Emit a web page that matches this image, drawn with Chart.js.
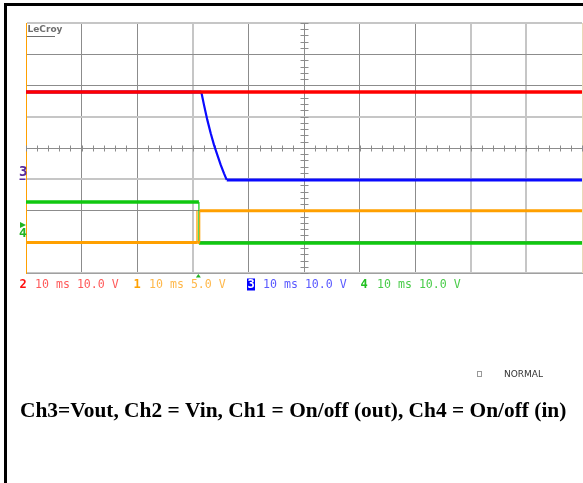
<!DOCTYPE html>
<html>
<head>
<meta charset="utf-8">
<script src="https://cdn.jsdelivr.net/npm/chart.js@4.4.1/dist/chart.umd.min.js"></script>
<style>
  html, body { margin: 0; padding: 0; background: #fff; }
  body { width: 583px; height: 483px; position: relative; overflow: hidden; }
  #frame { position: absolute; left: 4px; top: 3px; width: 600px; height: 500px; border-top: 3px solid #000; border-left: 3px solid #000; }
  #scope { position: absolute; left: 0; top: 0; }
</style>
</head>
<body>
<div id="frame"></div>
<canvas id="scope" width="583" height="483"></canvas>
<script>
// time in ms (10 ms/div, trigger at centre), level in screen divisions from centre
const ch2Time  = [-50, 50];
const ch2Level = [1.79, 1.79];
const ch3Time  = [-50, -18.47, -17.99, -17.39, -16.78, -16.19, -15.59, -14.98, -14.39, -13.9, 50];
const ch3Level = [1.79, 1.79, 1.38, 0.90, 0.47, 0.10, -0.22, -0.54, -0.81, -1.02, -1.02];
const ch4Time  = [-50, -18.9, -18.9, 50];
const ch4Level = [-1.73, -1.73, -3.04, -3.04];
const ch1Time  = [-50, -19.25, -19.25, -19.22, -18.76, -18.76, 50];
const ch1Level = [-3.02, -3.02, -2.01, -3.02, -3.02, -2.01, -2.01];

const chNums     = ['2', '1', '3', '4'];
const chSettings = ['10 ms 10.0 V', '10 ms 5.0 V', '10 ms 10.0 V', '10 ms 10.0 V'];
const captionText = 'Ch3=Vout, Ch2 = Vin, Ch1 = On/off (out), Ch4 = On/off (in)';

const DARK = '#8c8c8c', LIGHT = '#c6c6c6';
const xGridColors = [DARK, DARK, DARK, LIGHT, DARK, DARK, DARK, DARK, LIGHT, LIGHT, '#ead9b8'];
const yGridColors = [LIGHT, DARK, DARK, LIGHT, DARK, LIGHT, DARK, DARK, LIGHT];

const pts = (t, v) => t.map((tt, i) => ({ x: tt, y: v[i] }));

// thin pen on steep edges, like the scope draws them
function segWidth(base) {
  return ctx => {
    const dx = Math.abs(ctx.p1.x - ctx.p0.x), dy = Math.abs(ctx.p1.y - ctx.p0.y);
    if (dy < 1) return base;
    if (dx < 0.5) return 1.2;
    return 2.2;
  };
}

function trace(label, data, color, width, order) {
  return {
    label, data, order,
    borderColor: color, borderWidth: width,
    pointRadius: 0, tension: 0, fill: false,
    segment: { borderWidth: segWidth(width) }
  };
}

const scopeDecor = {
  id: 'scopeDecor',
  beforeDatasetsDraw(chart) {
    const { ctx, scales: { x, y } } = chart;
    const cx = Math.round(x.getPixelForValue(0)) + 0.5;
    const cy = Math.round(y.getPixelForValue(0)) + 0.5;
    ctx.save();
    ctx.strokeStyle = DARK;
    ctx.lineWidth = 1;
    ctx.beginPath();
    for (let v = -50; v <= 50.001; v += 2) {
      const px = Math.round(x.getPixelForValue(v)) + 0.5;
      ctx.moveTo(px, cy - 3); ctx.lineTo(px, cy + 3);
    }
    for (let v = -4; v <= 4.001; v += 0.2) {
      const py = Math.round(y.getPixelForValue(v)) + 0.5;
      ctx.moveTo(cx - 4, py); ctx.lineTo(cx + 4, py);
    }
    ctx.stroke();
    ctx.restore();
  },
  afterDraw(chart) {
    const { ctx, scales: { x } } = chart;
    ctx.save();
    ctx.textBaseline = 'middle';

    // brand
    ctx.fillStyle = '#6e6e6e';
    ctx.font = "bold 9px 'DejaVu Sans'";
    ctx.fillText('LeCroy', 27.5, 30);
    ctx.fillRect(27, 36, 28, 1);

    // ground markers on the left edge
    ctx.fillStyle = '#5a2d9c';
    ctx.font = "bold 14px 'DejaVu Sans Mono'";
    ctx.fillText('3', 19, 172);
    ctx.fillRect(19.5, 178.5, 6, 1.5);
    ctx.fillStyle = '#22b422';
    ctx.beginPath();
    ctx.moveTo(20, 222); ctx.lineTo(26, 225); ctx.lineTo(20, 228); ctx.closePath(); ctx.fill();
    ctx.font = "bold 13px 'DejaVu Sans Mono'";
    ctx.fillText('4', 19, 234);

    // trigger marker
    const tx = x.getPixelForValue(-19.0);
    ctx.beginPath();
    ctx.moveTo(tx - 2.5, 277.5); ctx.lineTo(tx, 274); ctx.lineTo(tx + 2.5, 277.5); ctx.closePath(); ctx.fill();

    // channel setting row
    const row = 284.5;
    const numX = [20, 134, 248, 361];
    const txtX = [35, 149, 263, 377];
    const numCol = ['#ff1010', '#ffa000', '#0000ff', '#20c020'];
    const txtCol = ['#ff5a5a', '#ffb84a', '#5a5aff', '#4acc4a'];
    for (let i = 0; i < chNums.length; i++) {
      if (chNums[i] === '3') {
        ctx.fillStyle = numCol[i];
        ctx.fillRect(numX[i] - 1, row - 6, 8, 12);
        ctx.fillStyle = '#fff';
      } else {
        ctx.fillStyle = numCol[i];
      }
      ctx.font = "bold 12px 'DejaVu Sans Mono'";
      ctx.fillText(chNums[i], numX[i] - 0.5, row);
      ctx.fillStyle = txtCol[i];
      ctx.font = "11.6px 'DejaVu Sans Mono'";
      ctx.fillText(chSettings[i], txtX[i], row);
    }

    // status
    ctx.strokeStyle = '#999';
    ctx.lineWidth = 1;
    ctx.strokeRect(477.5, 371.5, 4, 5);
    ctx.fillStyle = '#333';
    ctx.font = "9px 'DejaVu Sans'";
    ctx.fillText('NORMAL', 504, 375);

    // caption
    ctx.fillStyle = '#000';
    ctx.font = "bold 21.4px 'Liberation Serif'";
    ctx.fillText(captionText, 20, 411);
    ctx.restore();
  }
};

new Chart(document.getElementById('scope'), {
  type: 'line',
  data: {
    datasets: [
      trace('Ch2', pts(ch2Time, ch2Level), '#ff0000', 3.5, 0),
      trace('Ch3', pts(ch3Time, ch3Level), '#0a0aff', 3, 1),
      trace('Ch1', pts(ch1Time, ch1Level), '#ffa000', 3, 2),
      trace('Ch4', pts(ch4Time, ch4Level), '#10c810', 3.5, 3)
    ]
  },
  options: {
    responsive: false,
    animation: false,
    devicePixelRatio: 1,
    layout: { padding: { left: 26, top: 23, right: 1, bottom: 210 } },
    plugins: { legend: { display: false }, tooltip: { enabled: false } },
    scales: {
      x: {
        type: 'linear', min: -50, max: 50,
        ticks: { display: false, stepSize: 10 },
        grid: {
          drawTicks: false,
          color: c => xGridColors[c.index] || DARK,
          lineWidth: c => (xGridColors[c.index] === LIGHT ? 2 : 1)
        },
        border: { color: '#a0a0a0', width: 1 }
      },
      y: {
        type: 'linear', min: -4, max: 4,
        ticks: { display: false, stepSize: 1 },
        grid: {
          drawTicks: false,
          color: c => yGridColors[c.index] || DARK,
          lineWidth: c => (yGridColors[c.index] === LIGHT ? 2 : 1)
        },
        border: { color: '#ffa000', width: 1 }
      }
    }
  },
  plugins: [scopeDecor]
});
</script>
</body>
</html>
